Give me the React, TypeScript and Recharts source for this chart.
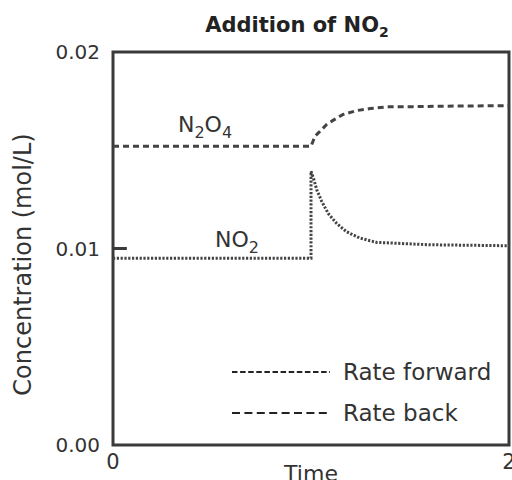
import { LineChart, Line, XAxis, YAxis, ReferenceArea, ReferenceLine, ReferenceDot, Legend } from 'recharts';

// N2O4 concentration over time (mol/L)
const TIME_N2O4 = [0, 1.0, 1.02, 1.045, 1.079, 1.111, 1.162, 1.231, 1.298, 1.382, 1.515, 1.75, 2.0];
const N2O4 = [0.0152, 0.0152, 0.01571, 0.01596, 0.01631, 0.01652, 0.01682, 0.01702, 0.01712, 0.01721, 0.01722, 0.01725, 0.01727];

// NO2 concentration over time (mol/L), spike when NO2 is added
const TIME_NO2 = [0, 1.0, 1.0, 1.012, 1.029, 1.054, 1.087, 1.13, 1.18, 1.247, 1.332, 1.6, 2.0];
const NO2 = [0.0095, 0.0095, 0.01393, 0.0136, 0.01299, 0.0124, 0.01178, 0.01127, 0.01085, 0.01053, 0.01031, 0.01019, 0.01014];

const Y_TICKS = [0, 0.01, 0.02];
const X_TICKS = [0, 2];

const LEGEND_ITEMS = [
    { label: 'Rate forward', dash: '5.5 2.6' },
    { label: 'Rate back', dash: '8 4.4' },
];

const FONT = '"DejaVu Sans", sans-serif';
const INK = '#333';

const n2o4Data = TIME_N2O4.map((t, i) => ({ t, c: N2O4[i] }));
const no2Data = TIME_NO2.map((t, i) => ({ t, c: NO2[i] }));

function FormulaLabel({ cx, cy, parts }: { cx?: number; cy?: number; parts: [string, string][] }) {
    return (
        <text x={cx} y={cy} fill={INK} fontFamily={FONT} fontSize={22}>
            {parts.map(([main, sub], i) => (
                <tspan key={i}>
                    <tspan dy={i === 0 ? 0 : -6}>{main}</tspan>
                    {sub && <tspan dy={6} fontSize={16}>{sub}</tspan>}
                </tspan>
            ))}
        </text>
    );
}

function LegendBox() {
    return (
        <div style={{ fontFamily: FONT, fontSize: 23, color: INK }}>
            {LEGEND_ITEMS.map((item) => (
                <div key={item.label} style={{ display: 'flex', alignItems: 'center', height: 41 }}>
                    <svg width={100} height={6} style={{ marginRight: 11 }}>
                        <line x1={0} y1={3} x2={98} y2={3} stroke="#222" strokeWidth={2} strokeDasharray={item.dash} />
                    </svg>
                    <span>{item.label}</span>
                </div>
            ))}
        </div>
    );
}

export default function App() {
    return (
        <div style={{ position: 'absolute', left: 0, top: 0, width: 512, height: 480, overflow: 'hidden', background: '#fff' }}>
            <div
                style={{
                    position: 'absolute',
                    top: 13,
                    left: 147,
                    width: 300,
                    textAlign: 'center',
                    fontFamily: FONT,
                    fontWeight: 'bold',
                    fontSize: 21,
                    color: '#222',
                    whiteSpace: 'nowrap',
                }}
            >
                Addition of NO<sub style={{ fontSize: 14, verticalAlign: -5 }}>2</sub>
            </div>
            <LineChart width={540} height={480} margin={{ top: 52, right: 31, bottom: 0, left: 0 }}>
                <XAxis
                    dataKey="t"
                    type="number"
                    domain={[0, 2]}
                    ticks={X_TICKS}
                    allowDuplicatedCategory={false}
                    axisLine={false}
                    tickLine={false}
                    tickSize={0}
                    tickMargin={9}
                    height={35}
                    tick={{ fill: INK, fontFamily: FONT, fontSize: 21 }}
                    label={{ value: 'Time', position: 'insideBottom', offset: -1, fill: INK, fontFamily: FONT, fontSize: 22 }}
                />
                <YAxis
                    dataKey="c"
                    type="number"
                    domain={[0, 0.02]}
                    ticks={Y_TICKS}
                    tickFormatter={(v: number) => v.toFixed(2)}
                    axisLine={false}
                    tickLine={false}
                    tickSize={0}
                    tickMargin={13}
                    width={113}
                    tick={{ fill: INK, fontFamily: FONT, fontSize: 20 }}
                    label={{ value: 'Concentration (mol/L)', angle: -90, position: 'center', dx: -34, dy: 16, fill: INK, fontFamily: FONT, fontSize: 24 }}
                />
                <ReferenceArea x1={0} x2={2} y1={0} y2={0.02} fill="none" fillOpacity={0} stroke="#3a3a3a" strokeWidth={3} />
                <ReferenceLine segment={[{ x: 0, y: 0.01 }, { x: 0.07, y: 0.01 }]} stroke="#3a3a3a" strokeWidth={3} />
                <Line
                    data={n2o4Data}
                    dataKey="c"
                    name="N2O4"
                    type="linear"
                    stroke="#444"
                    strokeWidth={3}
                    strokeDasharray="6 4"
                    dot={false}
                    isAnimationActive={false}
                />
                <Line
                    data={no2Data}
                    dataKey="c"
                    name="NO2"
                    type="linear"
                    stroke="#444"
                    strokeWidth={3}
                    strokeDasharray="2.2 1.6"
                    dot={false}
                    isAnimationActive={false}
                />
                <ReferenceDot x={0.328} y={0.01595} r={0} shape={(p: any) => <FormulaLabel cx={p.cx} cy={p.cy} parts={[['N', '2'], ['O', '4']]} />} />
                <ReferenceDot x={0.515} y={0.01009} r={0} shape={(p: any) => <FormulaLabel cx={p.cx} cy={p.cy} parts={[['NO', '2']]} />} />
                <Legend
                    layout="vertical"
                    align="center"
                    verticalAlign="middle"
                    wrapperStyle={{ left: 232, top: 351, width: 300 }}
                    content={() => <LegendBox />}
                />
            </LineChart>
        </div>
    );
}
